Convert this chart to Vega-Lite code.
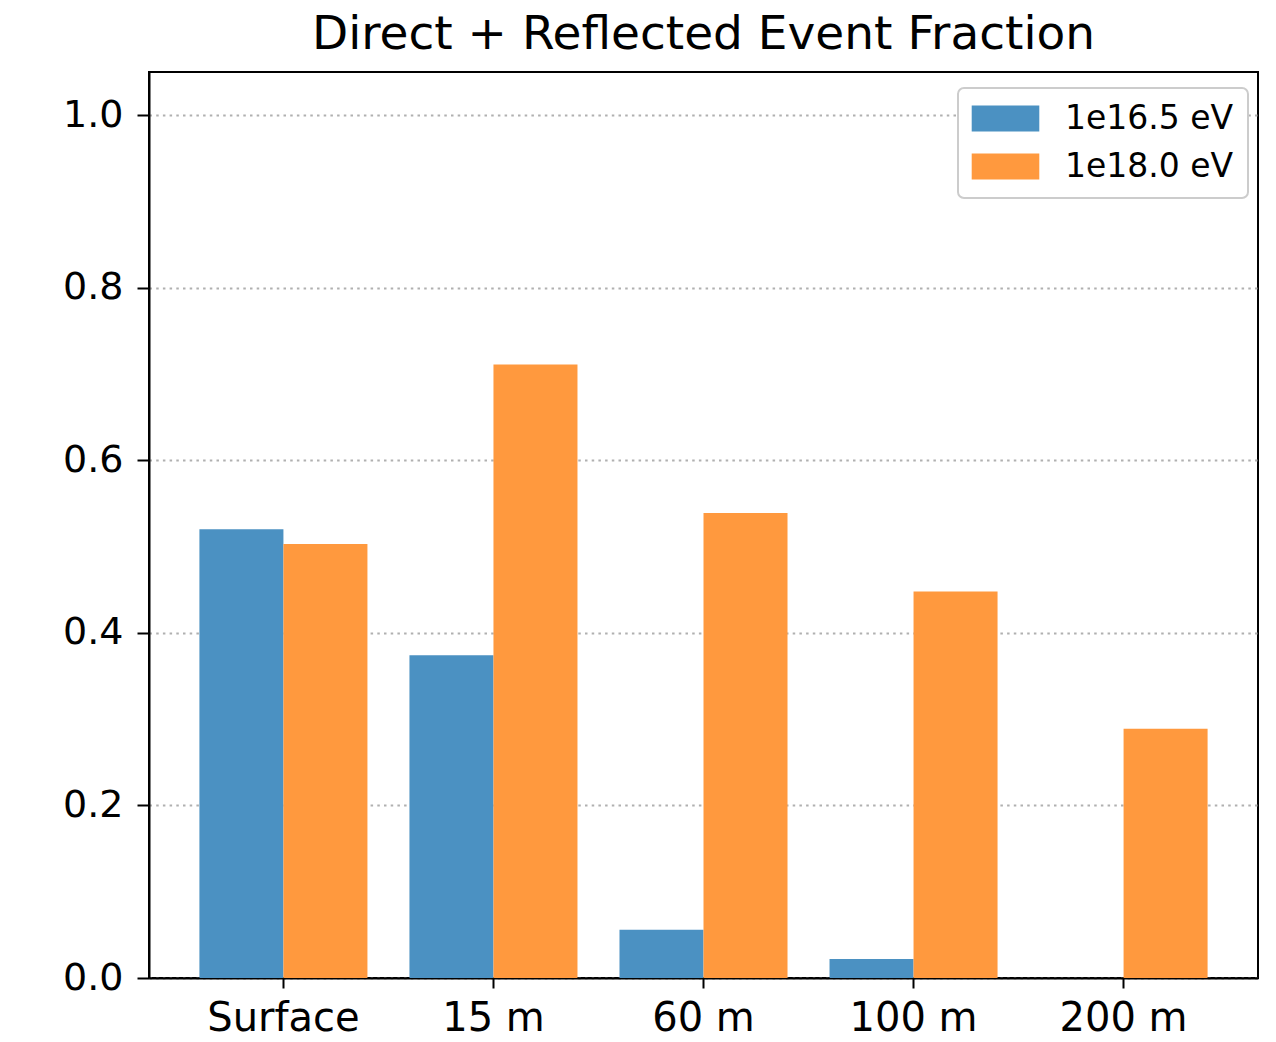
{
  "$schema": "https://vega.github.io/schema/vega-lite/v6.json",
  "autosize": {"type": "none"},
  "width": 1109,
  "height": 906,
  "padding": {"left": 149, "top": 72, "right": 18, "bottom": 64},
  "background": "white",
  "title": {
    "text": "Direct + Reflected Event Fraction",
    "font": "DejaVu Sans",
    "fontSize": 47,
    "fontWeight": "normal",
    "color": "black",
    "anchor": "middle",
    "offset": 13
  },
  "data": {
    "values": [
      {"depth": "Surface", "energy": "1e16.5 eV", "fraction": 0.520},
      {"depth": "Surface", "energy": "1e18.0 eV", "fraction": 0.503},
      {"depth": "15 m", "energy": "1e16.5 eV", "fraction": 0.374},
      {"depth": "15 m", "energy": "1e18.0 eV", "fraction": 0.711},
      {"depth": "60 m", "energy": "1e16.5 eV", "fraction": 0.056},
      {"depth": "60 m", "energy": "1e18.0 eV", "fraction": 0.539},
      {"depth": "100 m", "energy": "1e16.5 eV", "fraction": 0.022},
      {"depth": "100 m", "energy": "1e18.0 eV", "fraction": 0.448},
      {"depth": "200 m", "energy": "1e16.5 eV", "fraction": 0.0},
      {"depth": "200 m", "energy": "1e18.0 eV", "fraction": 0.289}
    ]
  },
  "mark": {"type": "bar"},
  "encoding": {
    "x": {
      "field": "depth",
      "type": "nominal",
      "sort": ["Surface", "15 m", "60 m", "100 m", "200 m"],
      "scale": {"paddingInner": 0.2, "paddingOuter": 0.24},
      "axis": {
        "title": null,
        "labelAngle": 0,
        "labelFontSize": 40,
        "labelPadding": 10,
        "tickSize": 10,
        "domain": true,
        "domainColor": "black",
        "domainWidth": 2,
        "grid": false
      }
    },
    "xOffset": {
      "field": "energy",
      "type": "nominal",
      "scale": {"paddingInner": 0, "paddingOuter": 0}
    },
    "y": {
      "field": "fraction",
      "type": "quantitative",
      "scale": {"domain": [0, 1.05], "nice": false, "zero": true},
      "axis": {
        "title": null,
        "values": [0, 0.2, 0.4, 0.6, 0.8, 1.0],
        "format": ".1f",
        "labelFontSize": 38,
        "labelPadding": 14,
        "tickSize": 12,
        "domain": true,
        "domainColor": "black",
        "domainWidth": 2,
        "grid": true,
        "gridColor": "#b0b0b0",
        "gridWidth": 2,
        "gridDash": [2.5, 4.2]
      }
    },
    "color": {
      "field": "energy",
      "type": "nominal",
      "scale": {
        "domain": ["1e16.5 eV", "1e18.0 eV"],
        "range": ["#4b91c2", "#ff993e"]
      },
      "legend": {
        "title": null,
        "orient": "none",
        "legendX": 809,
        "legendY": 16,
        "symbolType": "M-2.6,-1H2.6V1H-2.6Z",
        "symbolSize": 676,
        "symbolOffset": 17,
        "symbolStrokeWidth": 0,
        "symbolOpacity": 1,
        "labelFontSize": 33,
        "labelLimit": 400,
        "labelOffset": 43,
        "rowPadding": 14,
        "padding": 14,
        "fillColor": "white",
        "strokeColor": "#cccccc",
        "cornerRadius": 6
      }
    }
  },
  "config": {
    "font": "DejaVu Sans",
    "view": {"stroke": "black", "strokeWidth": 2},
    "axis": {
      "labelFont": "DejaVu Sans",
      "labelColor": "black",
      "tickColor": "black",
      "tickWidth": 2
    },
    "legend": {
      "labelFont": "DejaVu Sans",
      "labelColor": "black",
      "strokeWidth": 2
    }
  }
}
